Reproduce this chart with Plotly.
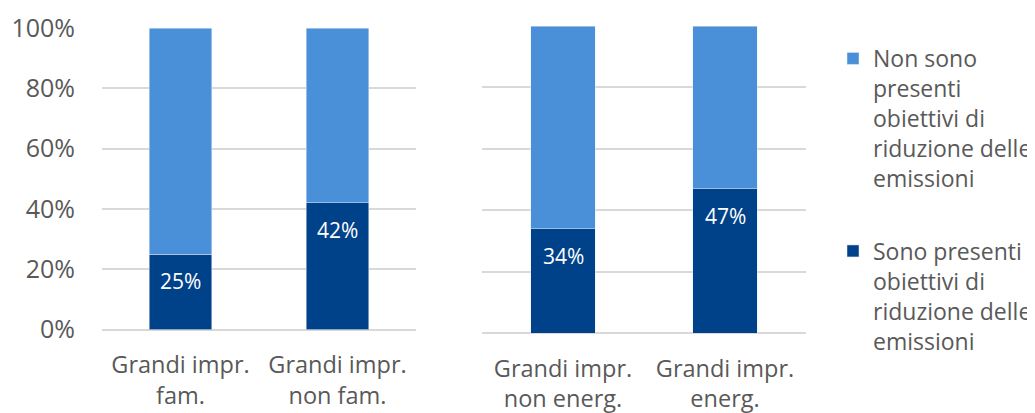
import plotly.graph_objects as go

# data
left_categories = ["Grandi impr.<br>fam.", "Grandi impr.<br>non fam."]
right_categories = ["Grandi impr.<br>non energ.", "Grandi impr.<br>energ."]
left_presenti = [25, 42]
right_presenti = [34, 47]
left_non_presenti = [100 - v for v in left_presenti]
right_non_presenti = [100 - v for v in right_presenti]
y_ticks = [0, 20, 40, 60, 80, 100]

name_si = "Sono presenti<br>obiettivi di<br>riduzione delle<br>emissioni"
name_no = "Non sono<br>presenti<br>obiettivi di<br>riduzione delle<br>emissioni"

DARK = "#00428a"
LIGHT = "#4a90d9"
GREY = "#595959"
GRID = "#d9d9d9"
FONT = "Open Sans"

# the page body adds an 8px margin, so the figure is a bit smaller
OFF = 8
W, H = 1035 - OFF, 413 - OFF


def px_x(p):
    return (p - OFF) / W


def px_y(p):
    return 1 - (p - OFF) / H


fig = go.Figure()

for cats, si, no, xa, ya, show in [
    (left_categories, left_presenti, left_non_presenti, "x", "y", True),
    (right_categories, right_presenti, right_non_presenti, "x2", "y2", False),
]:
    fig.add_trace(go.Bar(x=cats, y=si, name=name_si, marker_color=DARK, legendrank=2,
                         xaxis=xa, yaxis=ya, legendgroup="si", showlegend=show))
    fig.add_trace(go.Bar(x=cats, y=no, name=name_no, marker_color=LIGHT, legendrank=1,
                         xaxis=xa, yaxis=ya, legendgroup="no", showlegend=show))
    for c, v in zip(cats, si):
        fig.add_annotation(x=c, y=v, xref=xa, yref=ya, text=f"{v}%", showarrow=False,
                           yshift=-27, font=dict(color="white", size=21, family=FONT))

axis_x = dict(showgrid=False, showline=False, ticks="", automargin=False,
              ticklabelstandoff=19, tickfont=dict(size=23.5, color=GREY))
axis_y = dict(range=[0, 100], tickmode="array", tickvals=y_ticks,
              ticktext=[f"{v}%" for v in y_ticks], showgrid=True, automargin=False,
              gridcolor=GRID, gridwidth=2, zeroline=True, zerolinecolor=GRID,
              zerolinewidth=2, showline=False, tickfont=dict(size=25, color=GREY))

fig.update_layout(
    width=W, height=H,
    margin=dict(l=0, r=0, t=0, b=0, autoexpand=False),
    barmode="stack", bargap=0.6,
    plot_bgcolor="white", paper_bgcolor="white",
    font=dict(family=FONT, color=GREY),
    xaxis=dict(domain=[px_x(102), px_x(416)], anchor="y", **axis_x),
    xaxis2=dict(domain=[px_x(482), px_x(806)], anchor="y2", **axis_x),
    yaxis=dict(domain=[px_y(329.5), px_y(28)], anchor="x",
               ticklabelstandoff=26, **axis_y),
    yaxis2=dict(domain=[px_y(333), px_y(26)], anchor="x2",
                showticklabels=False, **axis_y),
    legend=dict(x=px_x(833), y=px_y(37), xanchor="left", yanchor="top",
                traceorder="grouped", valign="top", tracegroupgap=40,
                font=dict(size=23, color=GREY, family=FONT)),
)

fig.write_html("out.html")
